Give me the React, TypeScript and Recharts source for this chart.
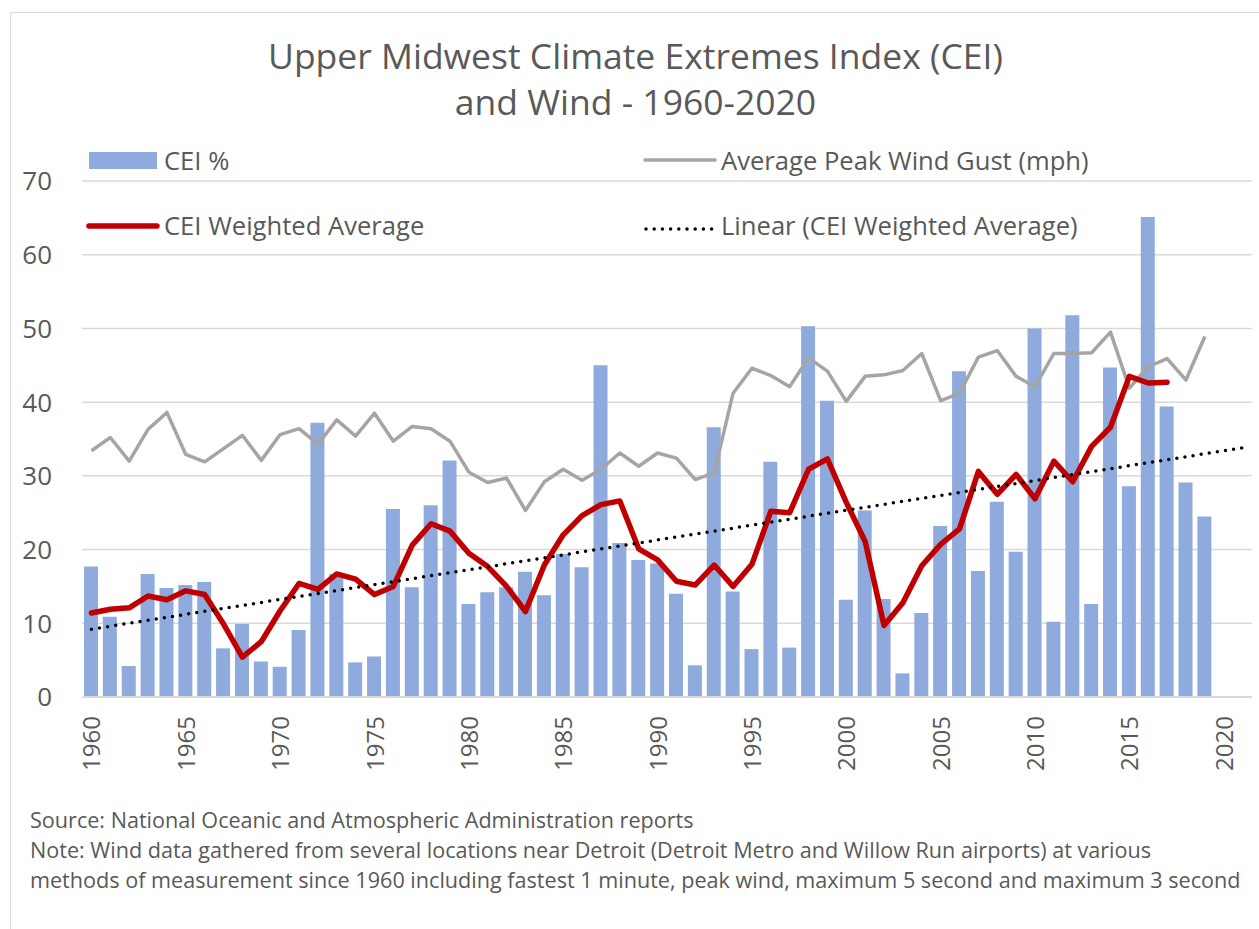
import React from 'react';
import { ComposedChart, Bar, Line, XAxis, YAxis, CartesianGrid } from 'recharts';

const years = [
  '1960', '1961', '1962', '1963', '1964', '1965', '1966', '1967', '1968', '1969',
  '1970', '1971', '1972', '1973', '1974', '1975', '1976', '1977', '1978', '1979',
  '1980', '1981', '1982', '1983', '1984', '1985', '1986', '1987', '1988', '1989',
  '1990', '1991', '1992', '1993', '1994', '1995', '1996', '1997', '1998', '1999',
  '2000', '2001', '2002', '2003', '2004', '2005', '2006', '2007', '2008', '2009',
  '2010', '2011', '2012', '2013', '2014', '2015', '2016', '2017', '2018', '2019',
  '2020', '2021',
];

// CEI % (bars), 1960-2019
const ceiPercent = [
  17.7, 10.9, 4.2, 16.7, 14.8, 15.2, 15.6, 6.6, 9.9, 4.8,
  4.1, 9.1, 37.2, 16.7, 4.7, 5.5, 25.5, 14.9, 26.0, 32.1,
  12.6, 14.2, 14.9, 17.0, 13.8, 19.4, 17.6, 45.0, 20.9, 18.6,
  18.1, 14.0, 4.3, 36.6, 14.3, 6.5, 31.9, 6.7, 50.3, 40.2,
  13.2, 25.3, 13.3, 3.2, 11.4, 23.2, 44.2, 17.1, 26.5, 19.7,
  50.0, 10.2, 51.8, 12.6, 44.7, 28.6, 65.1, 39.4, 29.1, 24.5,
];

// Average Peak Wind Gust (mph), 1960-2019
const windGust = [
  33.4, 35.2, 32.0, 36.3, 38.6, 32.9, 31.9, 33.7, 35.5, 32.1,
  35.6, 36.4, 34.3, 37.6, 35.4, 38.5, 34.7, 36.7, 36.4, 34.7,
  30.5, 29.1, 29.7, 25.3, 29.2, 30.9, 29.4, 30.9, 33.1, 31.3,
  33.1, 32.4, 29.5, 30.4, 41.2, 44.6, 43.6, 42.1, 46.0, 44.2,
  40.1, 43.5, 43.7, 44.3, 46.6, 40.2, 41.2, 46.1, 47.0, 43.5,
  42.1, 46.6, 46.6, 46.7, 49.5, 41.9, 44.8, 45.9, 43.0, 48.9,
];

// CEI Weighted Average, 1960-2017
const ceiWeighted = [
  11.4, 11.9, 12.1, 13.7, 13.2, 14.4, 13.9, 9.9, 5.4, 7.5,
  11.7, 15.4, 14.6, 16.7, 16.0, 13.9, 15.0, 20.6, 23.5, 22.5,
  19.5, 17.7, 15.0, 11.6, 17.9, 22.0, 24.6, 26.1, 26.6, 20.1,
  18.6, 15.7, 15.2, 17.9, 15.0, 18.0, 25.2, 25.0, 30.9, 32.3,
  26.4, 21.1, 9.7, 12.8, 17.8, 20.7, 22.8, 30.6, 27.5, 30.2,
  26.9, 32.0, 29.2, 34.0, 36.6, 43.5, 42.6, 42.7,
];

// Linear (CEI Weighted Average) trendline end points
const trendYears = ['1960', '2021'];
const trendValues = [9.2, 33.8];

const yTicks = [0, 10, 20, 30, 40, 50, 60, 70];
const xTickLabels = ['1960', '1965', '1970', '1975', '1980', '1985', '1990', '1995', '2000', '2005', '2010', '2015', '2020'];

const data = years.map((y, i) => {
  const ti = trendYears.indexOf(y);
  return {
    year: y,
    cei: i < ceiPercent.length ? ceiPercent[i] : null,
    wind: i < windGust.length ? windGust[i] : null,
    avg: i < ceiWeighted.length ? ceiWeighted[i] : null,
    trend: ti >= 0 ? trendValues[ti] : null,
  };
});

const FONT = '"Open Sans", sans-serif';
const TEXT = '#595959';

const XTick = (props: any) => {
  const { x, payload } = props;
  if (!xTickLabels.includes(String(payload.value))) return null;
  return (
    <text
      transform={`translate(${x + 9}, 716) rotate(-90)`}
      textAnchor="end"
      fill={TEXT}
      fontFamily={FONT}
      fontSize={24}
    >
      {payload.value}
    </text>
  );
};

const YTick = (props: any) => {
  const { y, payload } = props;
  return (
    <text x={52} y={y} dy="0.36em" textAnchor="end" fill={TEXT} fontFamily={FONT} fontSize={26}>
      {payload.value}
    </text>
  );
};

const legendLabel: React.CSSProperties = {
  position: 'absolute',
  fontFamily: FONT,
  fontSize: 25.6,
  color: TEXT,
  lineHeight: '30px',
  whiteSpace: 'nowrap',
};

export default function App() {
  return (
    <div style={{ position: 'absolute', left: 0, top: 0, width: 1259, height: 929, overflow: 'hidden', background: '#fff' }}>
      <div style={{ position: 'absolute', left: 10, top: 12, width: 1300, height: 1000, border: '1.5px solid #d9d9d9', boxSizing: 'border-box' }} />
      <div style={{ position: 'absolute', left: 0, top: 32, width: 1271, textAlign: 'center', fontFamily: FONT, fontSize: 35.5, color: TEXT, lineHeight: '46px', whiteSpace: 'nowrap' }}>
        <div>Upper Midwest Climate Extremes Index (CEI)</div>
        <div>and Wind - 1960-2020</div>
      </div>

      <div style={{ position: 'absolute', left: 0, top: 0 }}>
        <ComposedChart
          width={1259}
          height={929}
          data={data}
          margin={{ top: 181, right: 7, bottom: 0, left: 0 }}
          barSize={14}
        >
          <CartesianGrid vertical={false} stroke="#d9d9d9" strokeWidth={1.5} />
          <XAxis
            dataKey="year"
            interval={0}
            height={232}
            tickLine={false}
            axisLine={{ stroke: '#d9d9d9', strokeWidth: 2 }}
            tick={<XTick />}
          />
          <YAxis
            width={82}
            domain={[0, 70]}
            ticks={yTicks}
            tickLine={false}
            axisLine={false}
            tick={<YTick />}
          />
          <Bar dataKey="cei" fill="#8faadc" isAnimationActive={false} />
          <Line dataKey="wind" stroke="#a5a5a5" strokeWidth={3.5} dot={false} activeDot={false} isAnimationActive={false} strokeLinejoin="round" />
          <Line dataKey="avg" stroke="#c00000" strokeWidth={5.5} dot={false} activeDot={false} isAnimationActive={false} strokeLinejoin="round" strokeLinecap="round" />
          <Line dataKey="trend" stroke="#000" strokeWidth={3.5} strokeDasharray="0 8.2" strokeLinecap="round" dot={false} activeDot={false} connectNulls isAnimationActive={false} />
        </ComposedChart>
      </div>

      {/* Legend */}
      <div style={{ position: 'absolute', left: 89, top: 152, width: 68, height: 17, background: '#8faadc' }} />
      <div style={{ ...legendLabel, left: 164, top: 146 }}>CEI %</div>
      <svg style={{ position: 'absolute', left: 640, top: 150 }} width={80} height={20}>
        <line x1={5} y1={10} x2={75} y2={10} stroke="#a5a5a5" strokeWidth={3.5} strokeLinecap="round" />
      </svg>
      <div style={{ ...legendLabel, left: 721, top: 146 }}>Average Peak Wind Gust (mph)</div>
      <svg style={{ position: 'absolute', left: 80, top: 216 }} width={86} height={20}>
        <line x1={9} y1={10} x2={77} y2={10} stroke="#c00000" strokeWidth={5.5} strokeLinecap="round" />
      </svg>
      <div style={{ ...legendLabel, left: 164, top: 211 }}>CEI Weighted Average</div>
      <svg style={{ position: 'absolute', left: 640, top: 219 }} width={80} height={20}>
        <line x1={6} y1={10} x2={74} y2={10} stroke="#000" strokeWidth={3.5} strokeDasharray="0 8.2" strokeLinecap="round" />
      </svg>
      <div style={{ ...legendLabel, left: 721, top: 211 }}>Linear (CEI Weighted Average)</div>

      {/* Footer */}
      <div style={{ position: 'absolute', left: 30, top: 805, fontFamily: FONT, fontSize: 21.6, color: TEXT, lineHeight: '30px', whiteSpace: 'nowrap' }}>
        <div>Source: National Oceanic and Atmospheric Administration reports</div>
        <div>Note: Wind data gathered from several locations near Detroit (Detroit Metro and Willow Run airports) at various</div>
        <div>methods of measurement since 1960 including fastest 1 minute, peak wind, maximum 5 second and maximum 3 second</div>
      </div>
    </div>
  );
}
